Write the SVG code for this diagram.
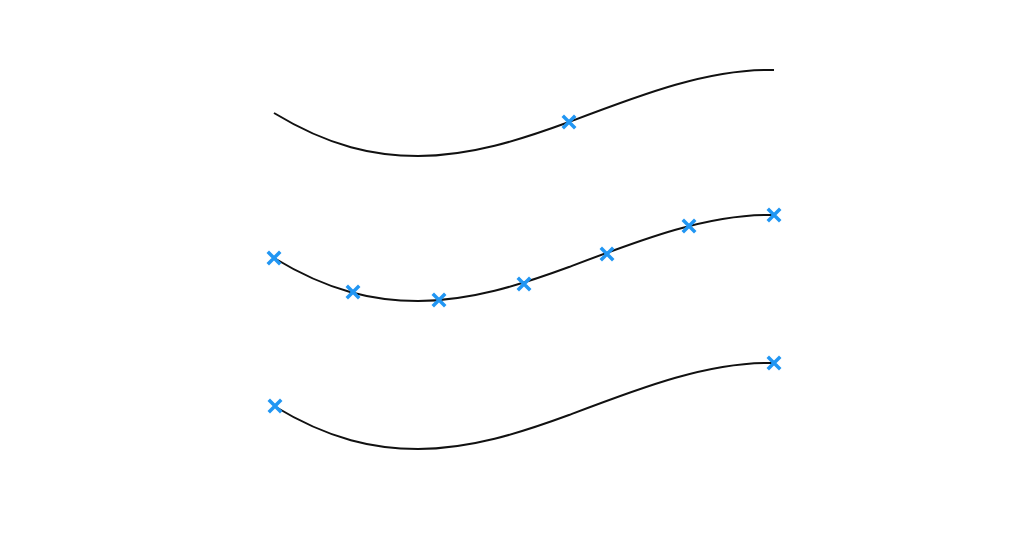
<svg xmlns="http://www.w3.org/2000/svg" xmlns:xlink="http://www.w3.org/1999/xlink" width="1024" height="537" viewBox="0 0 1024 537">
<style>.c{fill:none;stroke:#111;stroke-width:2}.x{stroke:#2196F3;stroke-width:3.5;stroke-linecap:square}</style>
<defs>
<path id="wave" d="M274,113 C330,147 375,156 418,156 C470,156 520,140 569,122 C640,95 710,68 774,70"/>
<g id="m"><path class="x" d="M-5,-5L5,5M5,-5L-5,5"/></g>
</defs>
<rect width="1024" height="537" fill="#fff"/>
<g id="connectors">
<use xlink:href="#wave" class="c"/>
<use xlink:href="#wave" class="c" transform="translate(0,145)"/>
<use xlink:href="#wave" class="c" transform="translate(0,293)"/>
</g>
<g id="markers1"><use xlink:href="#m" x="569" y="122"/></g>
<g id="markers2">
<use xlink:href="#m" x="274" y="258"/><use xlink:href="#m" x="353" y="292"/><use xlink:href="#m" x="439" y="300"/><use xlink:href="#m" x="524" y="284"/><use xlink:href="#m" x="607" y="254"/><use xlink:href="#m" x="689" y="226"/><use xlink:href="#m" x="774" y="215"/>
</g>
<g id="markers3"><use xlink:href="#m" x="275" y="406"/><use xlink:href="#m" x="774" y="363"/></g>
</svg>
